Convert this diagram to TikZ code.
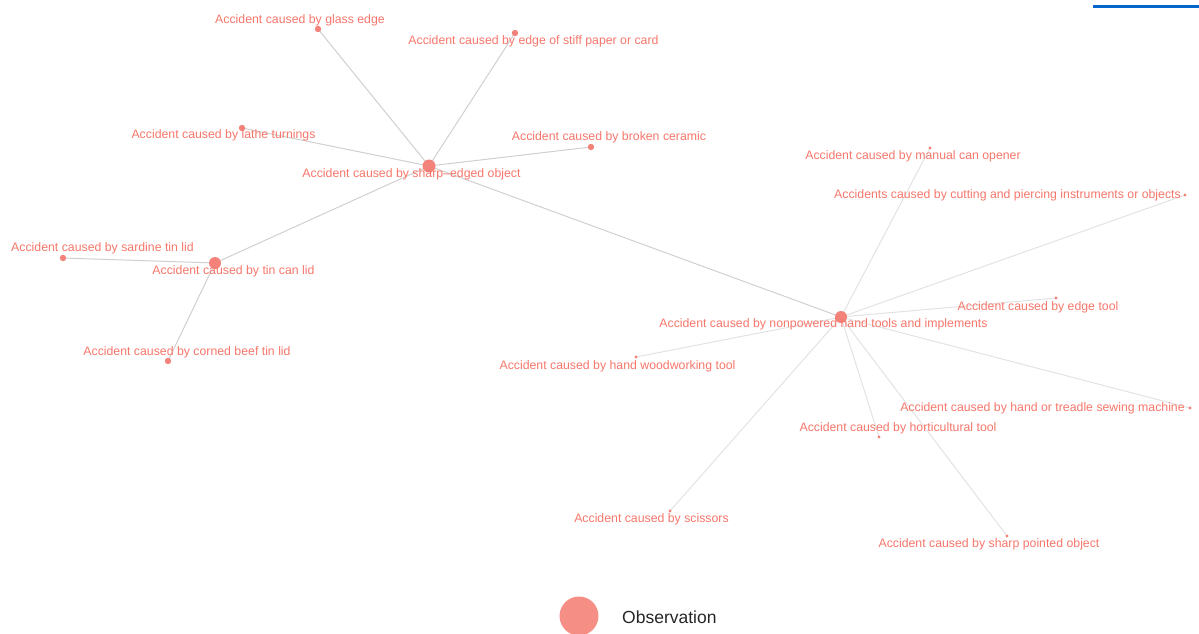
\documentclass[tikz,border=0pt]{standalone}
\usepackage{fontspec}
\setmainfont{Liberation Sans}
\definecolor{lbl}{RGB}{246,118,106}
\definecolor{dotc}{RGB}{242,130,122}
\definecolor{legc}{RGB}{245,143,133}
\definecolor{edgeA}{RGB}{208,208,208}
\definecolor{edgeB}{RGB}{226,226,226}
\definecolor{barblue}{RGB}{0,102,204}
\tikzset{
  lab/.style={text=lbl, font=\fontsize{12.3}{14}\selectfont, inner sep=0pt, anchor=center, yshift=-1.5pt},
  hub/.style={circle, inner sep=0pt, minimum size=12pt},
  leafbig/.style={circle, inner sep=0pt, minimum size=6.5pt},
  leafsmall/.style={circle, inner sep=0pt, minimum size=3pt},
  eA/.style={draw=edgeA, line width=1pt},
  eB/.style={draw=edgeB, line width=1pt},
}
\begin{document}
\begin{tikzpicture}[x=1pt,y=-1pt]
\useasboundingbox (0,0) rectangle (1199,633);
\clip (0,0) rectangle (1199,633);
% node positions
\node[hub] (h1) at (429,166) {};
\node[hub] (h2) at (215,263) {};
\node[hub] (h3) at (841,317) {};
\node[leafbig] (glass) at (318,29) {};
\node[leafbig] (paper) at (515,33) {};
\node[leafbig] (lathe) at (242,128) {};
\node[leafbig] (ceramic) at (591,147) {};
\node[leafbig] (sardine) at (63,258) {};
\node[leafbig] (corned) at (168,361) {};
\node[leafsmall] (canop) at (930,148) {};
\node[leafsmall] (cutting) at (1185,195) {};
\node[leafsmall] (edgetool) at (1056,298) {};
\node[leafsmall] (wood) at (636,357) {};
\node[leafsmall] (sewing) at (1190,408) {};
\node[leafsmall] (horti) at (879,437) {};
\node[leafsmall] (scissors) at (670,511) {};
\node[leafsmall] (pointed) at (1007,536) {};
% edges
\path[eA] (h1.center) -- (glass.center);
\path[eA] (h1.center) -- (paper.center);
\path[eA] (h1.center) -- (lathe.center);
\path[eA] (h1.center) -- (ceramic.center);
\path[eA] (h1.center) -- (h2.center);
\path[eA] (h1.center) -- (h3.center);
\path[eA] (h2.center) -- (sardine.center);
\path[eA] (h2.center) -- (corned.center);
\path[eB] (h3.center) -- (canop.center);
\path[eB] (h3.center) -- (cutting.center);
\path[eB] (h3.center) -- (edgetool.center);
\path[eB] (h3.center) -- (wood.center);
\path[eB] (h3.center) -- (sewing.center);
\path[eB] (h3.center) -- (horti.center);
\path[eB] (h3.center) -- (scissors.center);
\path[eB] (h3.center) -- (pointed.center);
% dots on top of edges
\fill[dotc] (h1.center) circle (6.5pt);
\fill[dotc] (h2.center) circle (6pt);
\fill[dotc] (h3.center) circle (6pt);
\foreach \n in {glass,paper,lathe,ceramic,sardine,corned} \fill[dotc] (\n.center) circle (3.2pt);
\foreach \n in {canop,cutting,edgetool,wood,sewing,horti,scissors,pointed} \fill[dotc] (\n.center) circle (1.6pt);
% labels
\node[lab] (l1) at (411.5,173) {Accident caused by sharp–edged object};
\node[lab] (l2) at (233.5,270) {Accident caused by tin can lid};
\node[lab] (l3) at (823.5,323) {Accident caused by nonpowered hand tools and implements};
\node[lab] (lglass) at (300,19) {Accident caused by glass edge};
\node[lab] (lpaper) at (533.5,40) {Accident caused by edge of stiff paper or card};
\node[lab] (llathe) at (223.5,134) {Accident caused by lathe turnings};
\node[lab] (lceramic) at (609,136) {Accident caused by broken ceramic};
\node[lab] (lsardine) at (102.5,247) {Accident caused by sardine tin lid};
\node[lab] (lcorned) at (187,351) {Accident caused by corned beef tin lid};
\node[lab] (lcanop) at (913,155) {Accident caused by manual can opener};
\node[lab] (lcutting) at (1007.5,194) {Accidents caused by cutting and piercing instruments or objects};
\node[lab] (ledge) at (1038,306) {Accident caused by edge tool};
\node[lab] (lwood) at (617.5,365) {Accident caused by hand woodworking tool};
\node[lab] (lsewing) at (1042.5,407) {Accident caused by hand or treadle sewing machine};
\node[lab] (lhorti) at (898,427) {Accident caused by horticultural tool};
\node[lab] (lscissors) at (651.5,518) {Accident caused by scissors};
\node[lab] (lpointed) at (989,543) {Accident caused by sharp pointed object};
% legend
\fill[legc] (579,616) circle (19.5pt);
\node[anchor=west, inner sep=0pt, font=\fontsize{17.5}{20}\selectfont, text=black!85, yshift=-1pt] (legtext) at (622,616) {Observation};
% top-right bar
\coordinate (barL) at (1093,6.5);
\coordinate (barR) at (1199,6.5);
\draw[barblue, line width=2.2pt] (barL) -- (barR);
\end{tikzpicture}
\end{document}
